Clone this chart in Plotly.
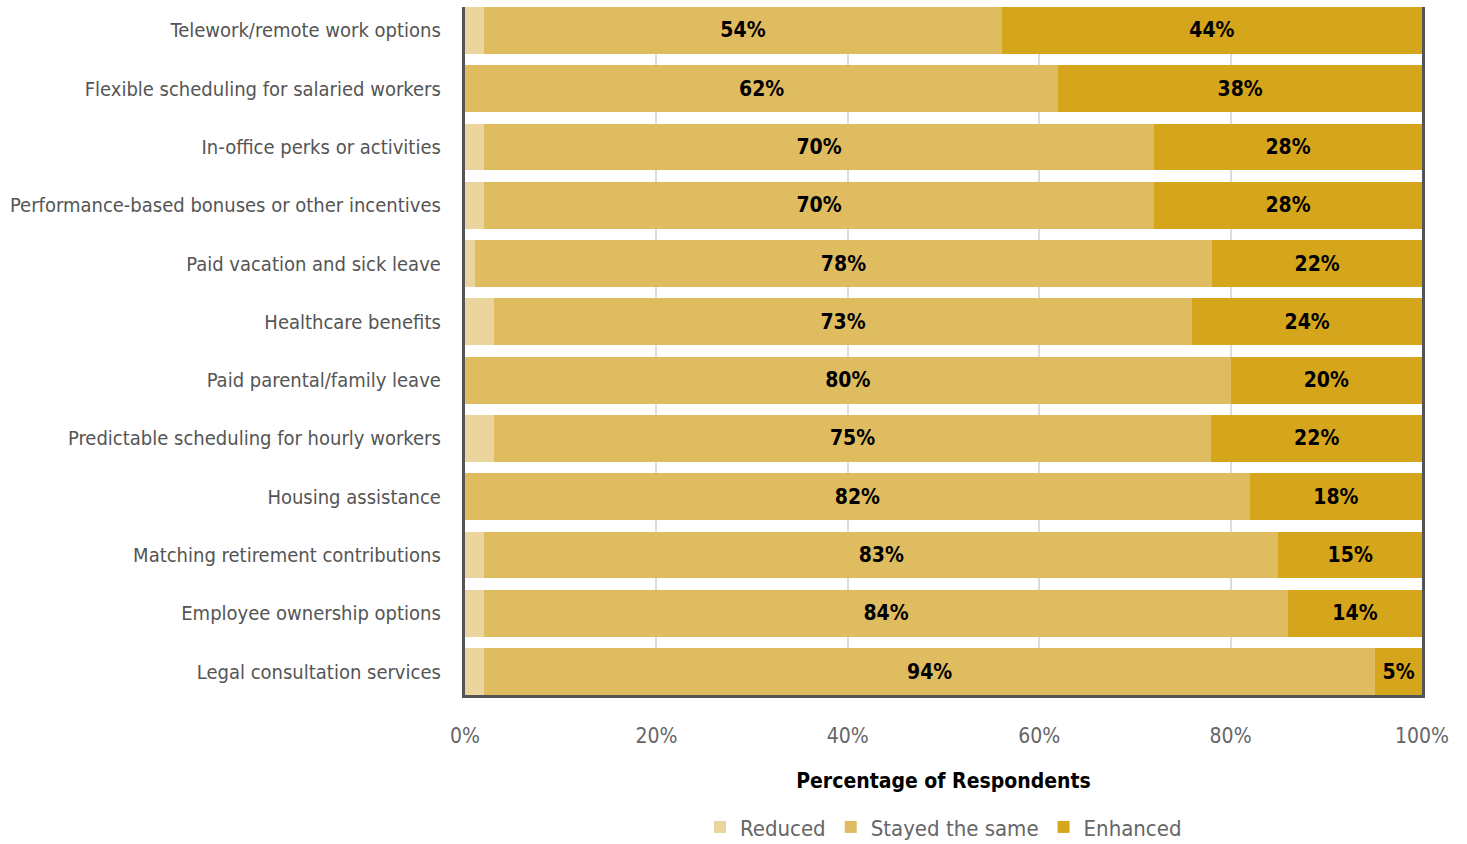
import plotly.graph_objects as go

categories = [
    "Telework/remote work options",
    "Flexible scheduling for salaried workers",
    "In-office perks or activities",
    "Performance-based bonuses or other incentives",
    "Paid vacation and sick leave",
    "Healthcare benefits",
    "Paid parental/family leave",
    "Predictable scheduling for hourly workers",
    "Housing assistance",
    "Matching retirement contributions",
    "Employee ownership options",
    "Legal consultation services",
]
reduced = [2, 0, 2, 2, 1, 3, 0, 3, 0, 2, 2, 2]
stayed = [54.1, 62, 70, 70, 77.1, 73, 80, 75, 82, 83, 84, 93.1]
enhanced = [43.9, 38, 28, 28, 21.9, 24, 20, 22, 18, 15, 14, 4.9]
stayed_labels = ["54%", "62%", "70%", "70%", "78%", "73%", "80%", "75%", "82%", "83%", "84%", "94%"]
enhanced_labels = ["44%", "38%", "28%", "28%", "22%", "24%", "20%", "22%", "18%", "15%", "14%", "5%"]
tick_vals = [0, 20, 40, 60, 80, 100]
tick_text = ["0%", "20%", "40%", "60%", "80%", "100%"]

FONT = "DejaVu Sans Condensed, DejaVu Sans, sans-serif"
BOLD = dict(family=FONT, size=21, color="#000000", weight="bold")

fig = go.Figure()
fig.add_trace(go.Bar(y=categories, x=reduced, orientation="h", name="Reduced",
                     marker=dict(color="#EBD49E", line=dict(width=0)), hoverinfo="x+name"))
fig.add_trace(go.Bar(y=categories, x=stayed, orientation="h", name="Stayed the same",
                     marker=dict(color="#DFBC60", line=dict(width=0)),
                     text=stayed_labels, textposition="inside", insidetextanchor="middle",
                     textangle=0, textfont=BOLD))
fig.add_trace(go.Bar(y=categories, x=enhanced, orientation="h", name="Enhanced",
                     marker=dict(color="#D5A51C", line=dict(width=0)),
                     text=enhanced_labels, textposition="inside", insidetextanchor="middle",
                     textangle=0, textfont=BOLD))

fig.update_layout(
    barmode="stack",
    bargap=0.195,
    width=1467, height=844,
    margin=dict(l=465, r=45, t=7, b=149),
    plot_bgcolor="white", paper_bgcolor="white",
    font=dict(family=FONT, color="#555555", size=20),
    uniformtext=dict(minsize=19, mode="show"),
    legend=dict(orientation="h", x=0.5, xanchor="center",
                yref="container", y=0.02, yanchor="middle",
                font=dict(size=22, color="#666666"), traceorder="normal"),
    showlegend=True,
)
fig.update_xaxes(
    range=[0, 100], tickvals=tick_vals, ticktext=tick_text,
    showgrid=True, gridcolor="#DDDDDD", gridwidth=2, zeroline=False,
    showline=True, linecolor="#555555", linewidth=3,
    ticks="outside", ticklen=20, tickcolor="rgba(0,0,0,0)",
    tickfont=dict(size=21, color="#666666"),
    automargin=False,
    title=dict(text="Percentage of Respondents", standoff=27,
               font=dict(family=FONT, size=21, color="#000000", weight="bold")),
)
fig.update_yaxes(
    type="category", categoryorder="array", categoryarray=categories,
    range=[11.4025, -0.4025],
    showline=True, linecolor="#555555", linewidth=3, mirror=True,
    showgrid=False, ticks="", ticksuffix="   ", automargin=False,
    tickfont=dict(size=20, color="#555555"),
)

fig.write_html("out.html")
